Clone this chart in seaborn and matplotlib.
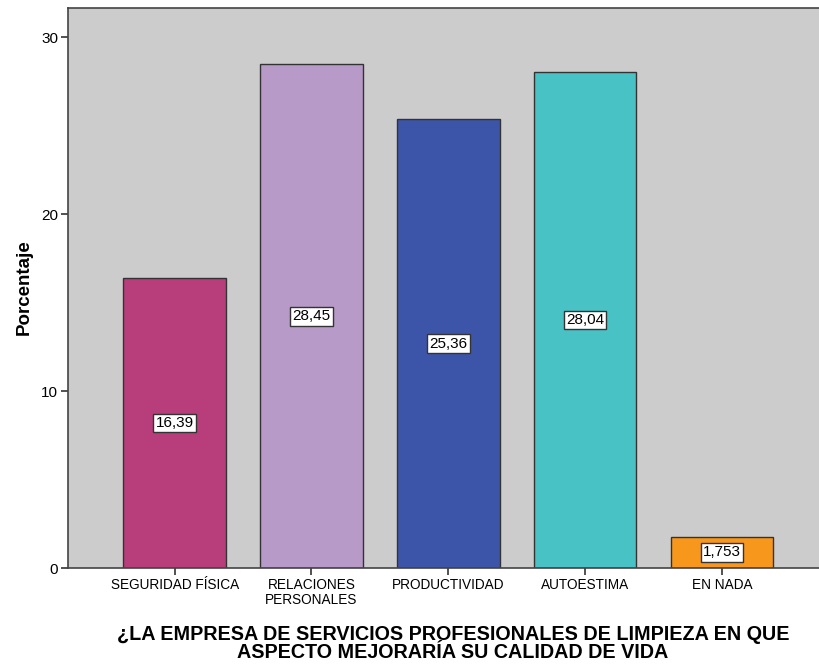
import matplotlib
matplotlib.use("Agg")
import matplotlib.pyplot as plt
import seaborn as sns
import pandas as pd

categories = ["SEGURIDAD FÍSICA", "RELACIONES\nPERSONALES", "PRODUCTIVIDAD", "AUTOESTIMA", "EN NADA"]
values = [16.39, 28.45, 25.36, 28.04, 1.753]
value_labels = ["16,39", "28,45", "25,36", "28,04", "1,753"]
colors = ["#b83d7b", "#b89ac8", "#3d55a8", "#48c2c5", "#f7981d"]
yticks = [0, 10, 20, 30]

sns.set_theme(style="white")
plt.rcParams['font.family'] = ['Liberation Sans', 'DejaVu Sans']
plt.rcParams['text.color'] = 'black'
plt.rcParams['axes.labelcolor'] = 'black'
plt.rcParams['xtick.color'] = 'black'
plt.rcParams['ytick.color'] = 'black'

df = pd.DataFrame({"cat": categories, "val": values})

fig = plt.figure(figsize=(8.19, 6.64), dpi=100)
ax = fig.add_axes([68/819, 96/664, 1 - 68/819, (568-8)/664])
ax.set_facecolor("#cccccc")

sns.barplot(data=df, x="cat", y="val", hue="cat", palette=colors, legend=False,
            width=0.75, edgecolor="#333333", linewidth=1.0, saturation=1, ax=ax)

for i, (v, lab) in enumerate(zip(values, value_labels)):
    ax.text(i, v / 2, lab, ha="center", va="center", fontsize=11, color="black",
            bbox=dict(boxstyle="square,pad=0.15", facecolor="white", edgecolor="#333333", linewidth=1))

ax.set_xlim(-0.78, 4.71)
ax.set_ylim(0, 31.64)
ax.set_yticks(yticks)
ax.set_yticklabels([str(t) for t in yticks], fontsize=11)
ax.tick_params(axis="both", direction="out", length=5, width=1.2, color="#333333", pad=2,
               left=True, bottom=True)
ax.tick_params(axis="x", labelsize=9.8)
for lbl in ax.get_xticklabels():
    lbl.set_linespacing(1.1)

for s in ["top", "left", "bottom"]:
    ax.spines[s].set_visible(True)
    ax.spines[s].set_color("#444444")
    ax.spines[s].set_linewidth(1.2)
ax.spines["right"].set_visible(False)

ax.set_ylabel("Porcentaje", fontsize=13.5, fontweight="bold")
ax.yaxis.set_label_coords(-(68 - 33) / (819 - 68), (568 - 287) / 560)
ax.set_xlabel("¿LA EMPRESA DE SERVICIOS PROFESIONALES DE LIMPIEZA EN QUE\nASPECTO MEJORARÍA SU CALIDAD DE VIDA",
              fontsize=14.2, fontweight="bold", linespacing=0.95)
ax.xaxis.set_label_coords((453 - 68) / (819 - 68), -0.101)

fig.savefig("out.png", dpi=100)
